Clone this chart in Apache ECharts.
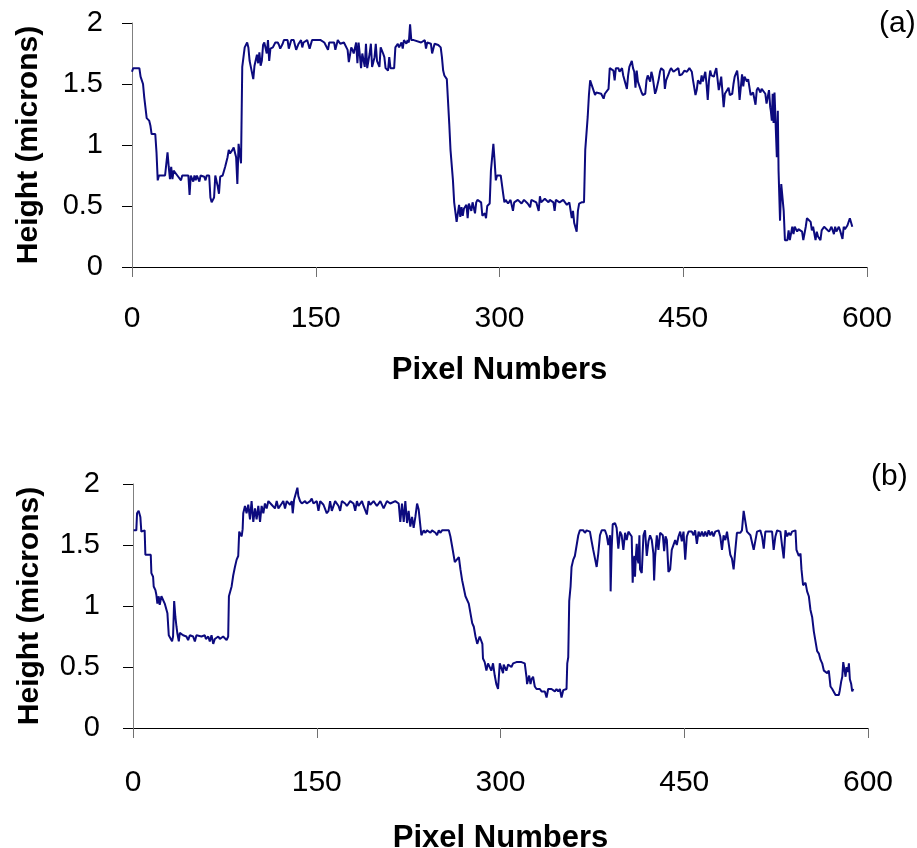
<!DOCTYPE html>
<html>
<head>
<meta charset="utf-8">
<title>Height profiles</title>
<script src="https://cdn.jsdelivr.net/npm/echarts@6/dist/echarts.min.js"></script>
<style>
  html, body { margin: 0; padding: 0; background: #fff; }
  #chart { width: 917px; height: 848px; }
</style>
</head>
<body>
<div id="chart"></div>
<script>
// profile (a): [pixel number, height in microns]
var profileA = [
  [0,1.60],[1,1.63],[6,1.63],[7,1.56],[9,1.50],[10,1.39],[11,1.39],[12,1.22],[14,1.20],[15,1.16],
  [16,1.09],[19,1.09],[20,0.94],[21,0.71],[22,0.75],[27,0.75],[29,0.94],[30,0.82],[31,0.72],[32,0.82],
  [33,0.72],[34,0.79],[37,0.75],[40,0.71],[41,0.75],[46,0.75],[47,0.59],[48,0.75],[50,0.70],[51,0.75],
  [52,0.71],[53,0.75],[55,0.70],[56,0.75],[59,0.74],[60,0.71],[61,0.75],[63,0.75],[64,0.57],[65,0.53],
  [67,0.57],[68,0.75],[70,0.66],[71,0.60],[72,0.74],[74,0.75],[76,0.82],[78,0.90],[79,0.96],[80,0.93],
  [82,0.96],[83,0.98],[85,0.90],[86,0.68],[87,1.01],[89,0.85],[90,1.64],[91,1.65],[92,1.80],[94,1.84],
  [95,1.80],[96,1.69],[97,1.64],[99,1.54],[100,1.65],[102,1.74],[103,1.67],[104,1.76],[105,1.65],[106,1.69],
  [107,1.82],[108,1.84],[110,1.75],[111,1.86],[112,1.69],[113,1.79],[115,1.80],[117,1.84],[119,1.84],[120,1.82],
  [121,1.79],[123,1.83],[124,1.86],[127,1.86],[128,1.79],[130,1.86],[132,1.86],[134,1.78],[136,1.83],[138,1.86],
  [139,1.80],[140,1.84],[143,1.86],[145,1.79],[146,1.78],[147,1.86],[154,1.86],[157,1.84],[160,1.78],[161,1.84],
  [165,1.84],[166,1.78],[168,1.86],[170,1.83],[173,1.84],[176,1.78],[177,1.68],[179,1.80],[180,1.78],[181,1.75],
  [183,1.84],[184,1.67],[185,1.84],[187,1.63],[188,1.75],[190,1.64],[191,1.83],[192,1.63],[194,1.75],[195,1.83],
  [196,1.64],[198,1.72],[199,1.83],[200,1.69],[202,1.64],[203,1.80],[205,1.75],[206,1.72],[207,1.63],[209,1.61],
  [210,1.72],[211,1.63],[214,1.63],[215,1.80],[217,1.83],[218,1.80],[220,1.84],[221,1.79],[222,1.86],[224,1.83],
  [225,1.86],[226,1.84],[227,1.99],[228,1.86],[230,1.86],[236,1.84],[239,1.86],[240,1.79],[241,1.84],[244,1.83],
  [245,1.75],[247,1.83],[248,1.84],[250,1.82],[252,1.80],[253,1.72],[254,1.61],[255,1.57],[257,1.54],[259,1.17],
  [260,0.96],[262,0.71],[263,0.53],[265,0.37],[267,0.51],[268,0.41],[269,0.49],[270,0.42],[271,0.48],[273,0.51],
  [274,0.40],[275,0.52],[277,0.46],[278,0.53],[280,0.44],[281,0.53],[282,0.55],[285,0.53],[286,0.42],[288,0.44],
  [289,0.40],[290,0.50],[292,0.52],[293,0.79],[295,1.01],[296,0.87],[297,0.71],[298,0.75],[301,0.75],[303,0.60],
  [304,0.53],[305,0.55],[307,0.52],[309,0.55],[311,0.46],[312,0.53],[315,0.55],[318,0.52],[320,0.55],[323,0.52],
  [325,0.49],[326,0.55],[330,0.53],[332,0.46],[333,0.58],[334,0.53],[337,0.56],[340,0.53],[341,0.55],[344,0.53],
  [345,0.46],[346,0.55],[349,0.53],[352,0.55],[355,0.51],[357,0.53],[359,0.40],[360,0.46],[361,0.36],[363,0.29],
  [364,0.46],[365,0.52],[367,0.53],[369,0.53],[370,0.96],[372,1.23],[373,1.41],[374,1.53],[375,1.50],[376,1.47],
  [378,1.41],[379,1.43],[380,1.42],[383,1.42],[385,1.38],[386,1.42],[387,1.43],[389,1.46],[390,1.63],[391,1.63],
  [393,1.61],[394,1.53],[395,1.63],[397,1.63],[398,1.60],[400,1.63],[401,1.57],[402,1.56],[404,1.46],[405,1.57],
  [406,1.64],[408,1.69],[409,1.63],[410,1.60],[411,1.47],[412,1.61],[413,1.52],[415,1.46],[416,1.43],[417,1.41],
  [419,1.42],[420,1.53],[421,1.57],[423,1.52],[424,1.60],[425,1.56],[427,1.42],[428,1.45],[430,1.54],[431,1.60],
  [432,1.63],[434,1.61],[435,1.46],[436,1.53],[438,1.58],[439,1.61],[440,1.63],[442,1.60],[443,1.61],[446,1.63],
  [447,1.57],[449,1.58],[450,1.57],[451,1.61],[453,1.60],[454,1.61],[455,1.63],[457,1.60],[458,1.53],[460,1.41],
  [461,1.45],[462,1.53],[464,1.50],[465,1.57],[466,1.52],[468,1.60],[469,1.50],[470,1.37],[471,1.53],[472,1.61],
  [473,1.57],[475,1.56],[476,1.60],[477,1.63],[479,1.45],[480,1.50],[481,1.56],[483,1.31],[484,1.42],[485,1.41],
  [487,1.47],[488,1.41],[490,1.42],[491,1.50],[492,1.56],[494,1.61],[495,1.52],[496,1.37],[498,1.58],[499,1.48],
  [500,1.56],[502,1.52],[503,1.54],[505,1.41],[506,1.42],[507,1.43],[509,1.33],[510,1.45],[511,1.47],[513,1.43],
  [514,1.46],[515,1.45],[517,1.42],[518,1.34],[520,1.45],[521,1.31],[521.5,1.28],[522.3,1.20],[523,1.42],[523.7,1.18],
  [524.5,1.43],[525.6,1.12],[526.4,0.90],[527.2,1.28],[527.8,0.79],[529,0.38],[530,0.68],[531,0.68],[532,0.46],[533,0.22],
  [535,0.22],[536,0.30],[537,0.22],[539,0.33],[540,0.27],[541,0.33],[543,0.29],[544,0.31],[545,0.30],[547,0.29],
  [548,0.22],[550,0.33],[551,0.40],[552,0.41],[554,0.37],[555,0.30],[556,0.33],[558,0.22],[559,0.29],[560,0.25],
  [562,0.22],[563,0.30],[565,0.33],[566,0.33],[569,0.29],[570,0.31],[571,0.33],[573,0.27],[574,0.33],[575,0.29],
  [577,0.33],[578,0.30],[580,0.23],[581,0.33],[582,0.31],[584,0.34],[585,0.34],[586,0.40],[588,0.33]
];

// profile (b): [pixel number, height in microns]
var profileB = [
  [0.5,1.62],[2.7,1.62],[3.3,1.76],[4.6,1.78],[6,1.73],[6.8,1.61],[9.5,1.62],[10.1,1.42],[14.5,1.42],[15,1.27],
  [16.4,1.24],[16.9,1.16],[18.3,1.13],[19.1,1.09],[19.9,1.02],[21,1.08],[21.8,1.01],[23.2,1.08],[24.5,1.08],[25.9,1.02],
  [27.3,1.02],[28.1,0.94],[29.2,0.76],[30.6,0.76],[31.9,0.71],[32.7,0.75],[33.6,1.04],[34.6,0.91],[35.5,0.83],[36.3,0.77],
  [37.4,0.71],[38.2,0.78],[40.9,0.76],[43.6,0.75],[45,0.72],[46.4,0.76],[49.1,0.75],[50.5,0.71],[51.8,0.76],[55.9,0.75],
  [58.6,0.76],[59.5,0.73],[61.4,0.75],[62.7,0.71],[64.1,0.76],[65.5,0.69],[66.8,0.73],[68.2,0.72],[69.6,0.75],[70.9,0.73],
  [73.6,0.75],[76.4,0.72],[77.7,0.75],[78.3,1.08],[80.5,1.16],[81.8,1.25],[83.2,1.32],[84.6,1.38],[85.9,1.41],[86.7,1.61],
  [88.7,1.57],[89.5,1.63],[90,1.76],[91.4,1.82],[92.7,1.76],[94.1,1.83],[95.5,1.71],[96.8,1.86],[98.2,1.69],[99.6,1.80],
  [100.9,1.71],[102.3,1.82],[103.7,1.69],[105,1.82],[106.4,1.76],[107.7,1.84],[109.1,1.80],[110.5,1.86],[113.2,1.83],[114.6,1.84],
  [115.9,1.80],[117.3,1.86],[118.7,1.80],[121.4,1.84],[122.7,1.86],[124.1,1.80],[125.5,1.86],[128.2,1.83],[129.6,1.86],[130.4,1.76],
  [131.5,1.87],[133.1,1.86],[134.2,1.97],[135,1.90],[136.4,1.86],[137.8,1.84],[140.5,1.86],[141.8,1.84],[144.6,1.86],[145.9,1.88],
  [147.3,1.84],[150,1.86],[151.4,1.78],[152.8,1.86],[155.5,1.83],[158.2,1.76],[159.6,1.78],[160.9,1.86],[162.3,1.78],[165,1.86],
  [167.8,1.82],[169.1,1.78],[170.5,1.86],[173.2,1.84],[174.6,1.82],[177.3,1.86],[180,1.84],[181.4,1.78],[182.8,1.86],[184.1,1.82],
  [186.9,1.86],[188.2,1.82],[190.9,1.75],[192.3,1.86],[193.7,1.83],[196.4,1.86],[199.1,1.82],[201.9,1.86],[204.6,1.80],[207.3,1.86],
  [210,1.84],[214.1,1.86],[216.9,1.84],[218.2,1.69],[219.6,1.84],[221,1.69],[222.3,1.86],[223.7,1.68],[225,1.78],[226.4,1.65],
  [227.8,1.73],[229.1,1.64],[230.5,1.73],[231.9,1.84],[233.2,1.79],[235.4,1.58],[237.3,1.62],[238.7,1.60],[240,1.62],[242.8,1.60],
  [244.1,1.62],[246.9,1.60],[248.2,1.58],[249.6,1.62],[251,1.60],[252.3,1.62],[257.8,1.62],[259.1,1.57],[260.5,1.49],[262.7,1.36],
  [266,1.40],[267.3,1.30],[268.7,1.21],[271.4,1.08],[274.1,1.02],[276.9,0.86],[278.2,0.83],[279.6,0.75],[281,0.69],[283,0.75],
  [284.4,0.76],[285.2,0.69],[285.7,0.57],[287.1,0.54],[288.5,0.47],[289.8,0.53],[291.2,0.52],[292.5,0.47],[293.9,0.53],[295.3,0.43],
  [296.6,0.36],[298,0.32],[299.4,0.53],[300.7,0.54],[302.1,0.45],[302.6,0.52],[303.5,0.53],[304.8,0.47],[306.2,0.52],[307.5,0.53],
  [308.9,0.50],[310.3,0.53],[313,0.54],[314.4,0.53],[317.1,0.54],[318.5,0.53],[319.8,0.53],[321.2,0.42],[321.7,0.36],[323.4,0.43],
  [324.5,0.36],[325.3,0.40],[326.6,0.42],[328,0.34],[329.4,0.32],[330.7,0.31],[332.1,0.32],[333.5,0.30],[334.8,0.31],[336.2,0.30],
  [337.6,0.25],[338.9,0.32],[340.3,0.31],[341.6,0.32],[343,0.31],[344.4,0.30],[345.7,0.32],[347.1,0.30],[348.5,0.32],[349.8,0.25],
  [351.2,0.31],[353.9,0.32],[354.5,0.53],[355.3,0.58],[356.1,1.04],[357.2,1.16],[358,1.32],[359.4,1.38],[360.7,1.41],[362.1,1.41],
  [363.5,1.58],[364.8,1.62],[366.2,1.61],[367.6,1.62],[368.9,1.60],[370.3,1.62],[371.7,1.62],[373,1.61],[374.4,1.53],[375.7,1.46],
  [377.1,1.39],[378.5,1.32],[379.8,1.43],[381.2,1.58],[382.6,1.62],[383.9,1.61],[385.3,1.62],[386.7,1.58],[388,1.50],[389.4,1.58],
  [389.9,1.12],[390.7,1.46],[391.6,1.67],[393.5,1.68],[394.8,1.64],[396.2,1.47],[397.6,1.61],[398.9,1.58],[400.3,1.46],[401.7,1.60],
  [403,1.54],[404.4,1.61],[405.7,1.62],[407.1,1.57],[407.9,1.19],[408.5,1.35],[409.3,1.41],[409.8,1.24],[410.4,1.39],[411.2,1.51],
  [412,1.38],[412.6,1.35],[413.4,1.58],[413.9,1.30],[415.3,1.27],[416.7,1.58],[418,1.62],[419.4,1.41],[420.8,1.53],[422.1,1.58],
  [423.5,1.54],[424.8,1.43],[425.4,1.21],[426.2,1.40],[427.6,1.58],[428.9,1.46],[430.3,1.60],[431.1,1.61],[432.5,1.58],[433.6,1.45],
  [434.7,1.57],[435.8,1.54],[437.1,1.28],[438.5,1.30],[439.8,1.46],[441.2,1.47],[442.6,1.54],[443.9,1.50],[445.3,1.57],[446.7,1.61],
  [448,1.53],[449.4,1.61],[450.8,1.38],[452.1,1.57],[453.5,1.61],[454.9,1.62],[456.2,1.61],[457.6,1.58],[458.9,1.62],[460.3,1.51],
  [461.7,1.61],[463,1.57],[464.4,1.61],[465.8,1.57],[467.1,1.61],[468.5,1.57],[469.9,1.62],[471.2,1.58],[472.6,1.61],[473.9,1.57],
  [475.3,1.61],[476.7,1.60],[478,1.62],[479.4,1.57],[480.8,1.46],[482.1,1.58],[483.5,1.54],[484.9,1.61],[486.2,1.61],[487.6,1.42],
  [488.9,1.39],[490.3,1.30],[491.7,1.46],[493,1.60],[494.4,1.61],[495.8,1.60],[497.1,1.62],[498.5,1.78],[499.9,1.78],[501.2,1.61],
  [502.6,1.62],[504,1.58],[505.3,1.57],[506.7,1.46],[508,1.45],[509.4,1.61],[510.8,1.60],[512.1,1.62],[513.5,1.57],[514.9,1.47],
  [516.2,1.61],[517.6,1.62],[519,1.61],[520.3,1.62],[521.7,1.61],[523,1.46],[524.4,1.57],[525.8,1.62],[527.1,1.62],[528.5,1.61],
  [529.9,1.49],[531.2,1.39],[532.6,1.62],[534,1.57],[535.3,1.60],[536.7,1.58],[538,1.61],[539.4,1.62],[540.8,1.62],[541.6,1.46],
  [543.5,1.41],[544.9,1.43],[545.7,1.30],[547,1.17],[549,1.19],[550.3,1.12],[551.7,1.08],[553,0.97],[554.4,0.91],[555.8,0.79],
  [557.1,0.78],[558.5,0.63],[559.9,0.61],[561.2,0.56],[562.6,0.53],[564,0.47],[565.3,0.47],[566.7,0.45],[568,0.47],[569.4,0.34],
  [570.8,0.32],[572.1,0.31],[573.5,0.27],[576.2,0.27],[577,0.31],[578.1,0.38],[579,0.42],[579.8,0.54],[580.9,0.47],[581.7,0.42],
  [582.5,0.50],[583.6,0.46],[584.4,0.53],[585.2,0.40],[586.3,0.36],[587.1,0.30],[588,0.32]
];

var panelLabels = ['(a)', '(b)'];
var xName = 'Pixel Numbers';
var yName = 'Height (microns)';

var FONT = '"Liberation Sans", Arial, sans-serif';
var LINE = '#0c0a7e';

// per-panel spacing: x label margin, x name gap, y label margin
function makeX(idx, labelMargin, nameGap) {
  return {
    gridIndex: idx,
    type: 'value',
    min: 0,
    max: 600,
    interval: 150,
    name: xName,
    nameLocation: 'middle',
    nameGap: nameGap,
    nameTextStyle: { fontFamily: FONT, fontSize: 31, fontWeight: 'bold', color: '#000' },
    axisLine: { show: true, lineStyle: { color: '#000', width: 1 } },
    axisTick: { show: true, inside: false, length: 10, lineStyle: { color: '#707070', width: 1 } },
    axisLabel: { fontFamily: FONT, fontSize: 30, color: '#000', margin: labelMargin },
    splitLine: { show: false }
  };
}

function makeY(idx, labelMargin) {
  return {
    gridIndex: idx,
    type: 'value',
    min: 0,
    max: 2,
    interval: 0.5,
    name: yName,
    nameLocation: 'middle',
    nameGap: 88,
    nameTextStyle: { fontFamily: FONT, fontSize: 30, fontWeight: 'bold', color: '#000' },
    axisLine: { show: true, lineStyle: { color: '#808080', width: 1 } },
    axisTick: { show: true, inside: false, length: 10, lineStyle: { color: '#000', width: 1 } },
    axisLabel: { fontFamily: FONT, fontSize: 29, color: '#000', margin: labelMargin },
    splitLine: { show: false }
  };
}

var myChart = echarts.init(document.getElementById('chart'), null, { renderer: 'canvas' });

var option = {
  animation: false,
  backgroundColor: '#fff',
  title: [
    { text: panelLabels[0], left: 874, top: 4, textStyle: { fontFamily: FONT, fontSize: 30, fontWeight: 'normal', color: '#000' } },
    { text: panelLabels[1], left: 866, top: 457, textStyle: { fontFamily: FONT, fontSize: 30, fontWeight: 'normal', color: '#000' } }
  ],
  grid: [
    { left: 132, top: 23, width: 735, height: 244, outerBoundsMode: 'none' },
    { left: 133, top: 484, width: 735, height: 244, outerBoundsMode: 'none' }
  ],
  xAxis: [makeX(0, 37, 88), makeX(1, 40, 95)],
  yAxis: [makeY(0, 29), makeY(1, 33)],
  series: [
    {
      type: 'line', xAxisIndex: 0, yAxisIndex: 0,
      data: profileA, showSymbol: false, smooth: false,
      lineStyle: { color: LINE, width: 2 }
    },
    {
      type: 'line', xAxisIndex: 1, yAxisIndex: 1,
      data: profileB, showSymbol: false, smooth: false,
      lineStyle: { color: LINE, width: 2 }
    }
  ]
};

myChart.setOption(option);
</script>
</body>
</html>
